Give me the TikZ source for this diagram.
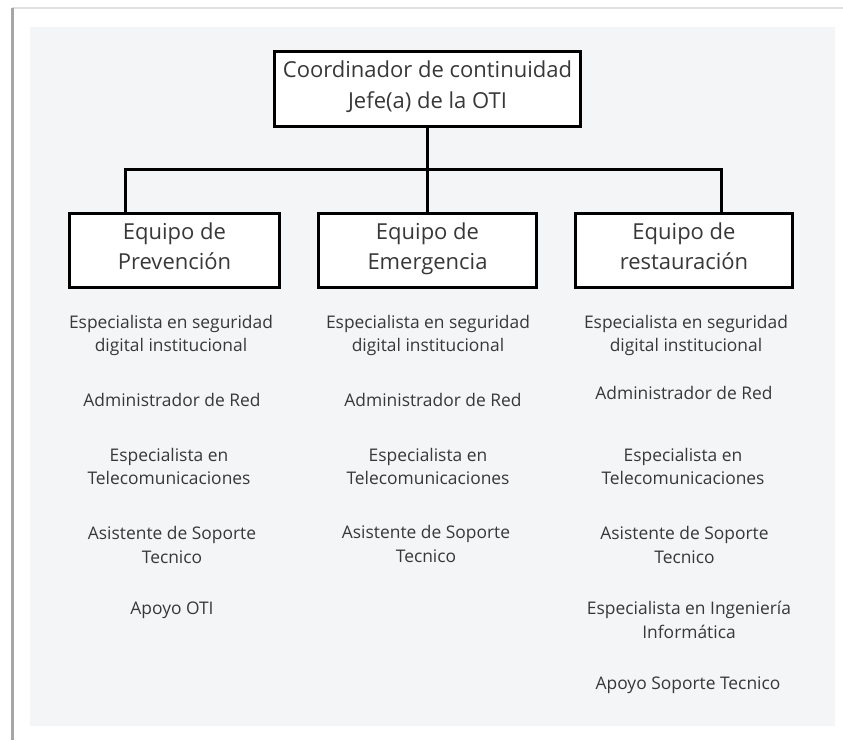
\documentclass[tikz,border=0pt]{standalone}
\usepackage{fontspec}
\setmainfont{Open Sans}
\usepackage{tikz}
\usetikzlibrary{positioning}

\definecolor{fondo}{HTML}{F4F5F7}
\definecolor{texto}{HTML}{383838}

\tikzset{
  caja/.style={draw=black, line width=3pt, fill=white, inner sep=0pt,
    align=center, text=texto, font=\fontsize{22}{30}\selectfont,
    execute at begin node={\rule{0pt}{26.5pt}}, execute at end node=\strut},
  cargo/.style={align=center, text=texto, inner sep=0pt,
    font=\fontsize{17.4}{23.5}\selectfont},
  linea/.style={line width=3pt}
}

\begin{document}
\begin{tikzpicture}[x=1pt, y=-1pt]
      \useasboundingbox (0, 0) rectangle (843, 740);
      \fill[white] (12, 8) rectangle (843, 740);
      \draw[black!12, line width=1.5pt] (12, 8) -- (843, 8);
      \draw[black!35, line width=3pt] (12, 8) -- (12, 740);
      \fill[fondo] (30, 27) rectangle (835, 726);

      \node[caja, minimum width=306pt, minimum height=75pt,
            font=\fontsize{22}{31}\selectfont] (coord) at (427.5, 89)
            {Coordinador de continuidad\\Jefe(a) de la OTI};

      \node[caja, minimum width=210pt, minimum height=74pt] (prev) at (174.5, 250.5)
            {Equipo de\\Prevención};
      \node[caja, minimum width=218pt, minimum height=74pt] (emer) at (427.5, 250.5)
            {Equipo de\\Emergencia};
      \node[caja, minimum width=217pt, minimum height=74pt] (rest) at (684, 250.5)
            {Equipo de\\restauración};

      \coordinate (barI) at (125, 169);
      \coordinate (barC) at (427.5, 169);
      \coordinate (barD) at (721, 169);
      \draw[linea] (coord) -- (barC);
      \draw[linea] (barI |- prev.north) -- (barI) -- (barD) -- (barD |- rest.north);
      \draw[linea] (barC) -- (emer);

      \node[cargo] (prevA) at (171, 335.5) {Especialista en seguridad\\digital institucional};
      \node[cargo] (prevB) at (172, 400)   {Administrador de Red};
      \node[cargo] (prevC) at (169, 466.5) {Especialista en\\Telecomunicaciones};
      \node[cargo] (prevD) at (172, 545)   {Asistente de Soporte\\Tecnico};
      \node[cargo] (prevE) at (172, 610)   {Apoyo OTI};

      \node[cargo] (emerA) at (428, 335.5) {Especialista en seguridad\\digital institucional};
      \node[cargo] (emerB) at (433, 400)   {Administrador de Red};
      \node[cargo] (emerC) at (428, 466.5) {Especialista en\\Telecomunicaciones};
      \node[cargo] (emerD) at (426, 544)   {Asistente de Soporte\\Tecnico};

      \node[cargo] (restA) at (686, 335.5) {Especialista en seguridad\\digital institucional};
      \node[cargo] (restB) at (684, 393)   {Administrador de Red};
      \node[cargo] (restC) at (683, 466.5) {Especialista en\\Telecomunicaciones};
      \node[cargo] (restD) at (684.5, 545) {Asistente de Soporte\\Tecnico};
      \node[cargo] (restE) at (689, 620)   {Especialista en Ingeniería\\Informática};
      \node[cargo] (restF) at (688, 685)   {Apoyo Soporte Tecnico};
    \end{tikzpicture}
\end{document}
